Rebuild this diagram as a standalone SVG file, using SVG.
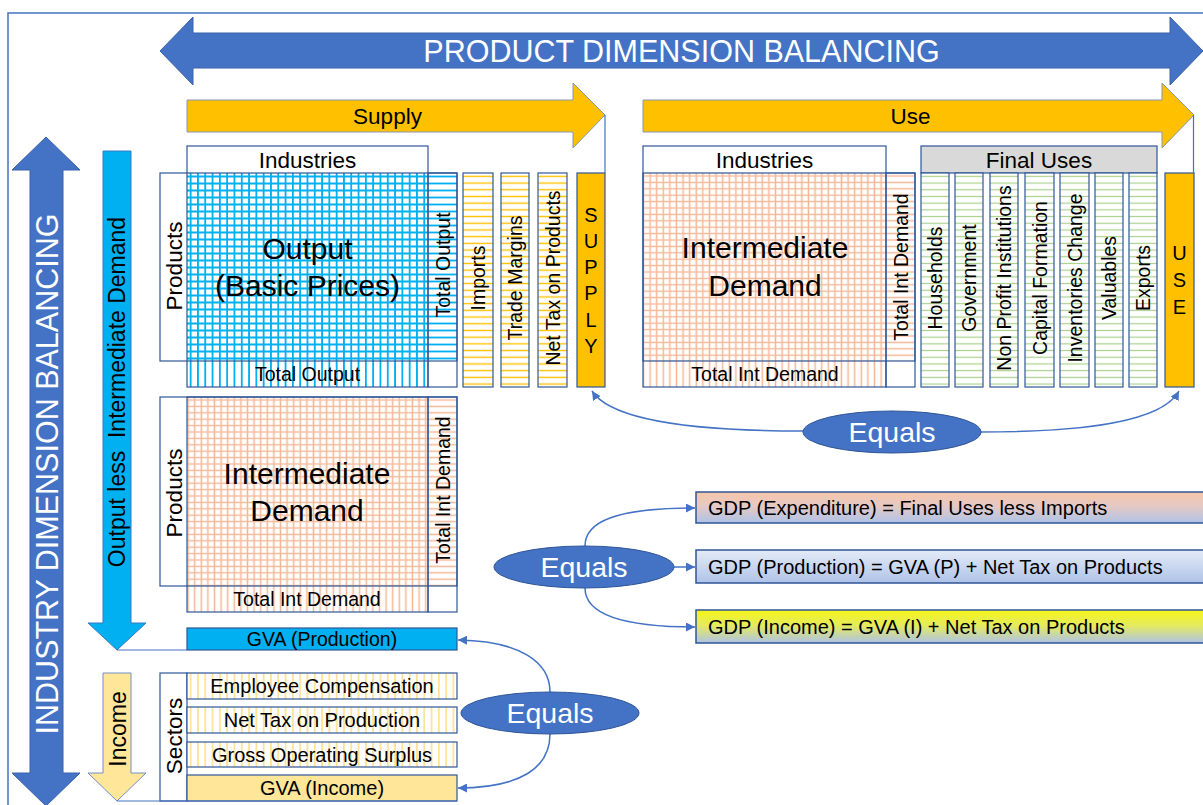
<svg xmlns="http://www.w3.org/2000/svg" width="1203" height="805" viewBox="0 0 1203 805">
  <style>
    .t { font-family: "Liberation Sans", Arial, sans-serif; fill: #000; text-anchor: middle; }
    .w { fill: #fff; }
    .box { fill: none; stroke: #2F5597; stroke-width: 1.2; }
    .white { fill: #fff; }
    .big { fill: #4472C4; stroke: #3A62AC; stroke-width: 1; }
    .gold { fill: #FFC000; stroke: #8496B4; stroke-width: 1; }
    .conn { fill: none; stroke: #4472C4; stroke-width: 1.5; }
    .arr { marker-end: url(#ah); }
    .oval { fill: #4472C4; stroke: #2F5597; stroke-width: 1; }
    .f30 { font-size: 30px; }
    .f22 { font-size: 22.5px; }
    .f20 { font-size: 20px; }
    .f19 { font-size: 19.5px; }
  </style>
  <defs>
    <!-- cell patterns -->
    <pattern id="gBlue" x="187" y="173" width="7.3" height="7" patternUnits="userSpaceOnUse">
      <rect width="7.3" height="7" fill="#fff"/>
      <path d="M3.65,0V7M0,3.5H7.3" stroke="#00B0F0" stroke-width="1.8"/>
    </pattern>
    <pattern id="vBlue" x="187" y="0" width="7.3" height="10" patternUnits="userSpaceOnUse">
      <rect width="7.3" height="10" fill="#fff"/>
      <path d="M3.65,0V10" stroke="#00B0F0" stroke-width="1.8"/>
    </pattern>
    <pattern id="hBlue" x="0" y="173" width="10" height="7" patternUnits="userSpaceOnUse">
      <rect width="10" height="7" fill="#fff"/>
      <path d="M0,3.5H10" stroke="#00B0F0" stroke-width="1.8"/>
    </pattern>
    <pattern id="gSalmon" x="0" y="0" width="6.6" height="6.4" patternUnits="userSpaceOnUse">
      <rect width="6.6" height="6.4" fill="#fff"/>
      <path d="M3.3,0V6.4M0,3.2H6.6" stroke="#F5B896" stroke-width="1.5"/>
    </pattern>
    <pattern id="vSalmon" x="0" y="0" width="6.6" height="10" patternUnits="userSpaceOnUse">
      <rect width="6.6" height="10" fill="#fff"/>
      <path d="M3.3,0V10" stroke="#F5B896" stroke-width="1.5"/>
    </pattern>
    <pattern id="hSalmon" x="0" y="0" width="10" height="6.4" patternUnits="userSpaceOnUse">
      <rect width="10" height="6.4" fill="#fff"/>
      <path d="M0,3.2H10" stroke="#F5B896" stroke-width="1.5"/>
    </pattern>
    <pattern id="hGold" x="0" y="173" width="10" height="6.7" patternUnits="userSpaceOnUse">
      <rect width="10" height="6.7" fill="#fff"/>
      <path d="M0,3.35H10" stroke="#FFC000" stroke-width="1.4"/>
    </pattern>
    <pattern id="hGreen" x="0" y="173" width="10" height="6.7" patternUnits="userSpaceOnUse">
      <rect width="10" height="6.7" fill="#fff"/>
      <path d="M0,3.35H10" stroke="#A9D18E" stroke-width="1.2"/>
    </pattern>
    <pattern id="vCream" x="187" y="0" width="7.3" height="10" patternUnits="userSpaceOnUse">
      <rect width="7.3" height="10" fill="#fff"/>
      <path d="M3.65,0V10" stroke="#FFE08A" stroke-width="1.6"/>
    </pattern>
    <linearGradient id="gdpExp" x1="0" y1="0" x2="0" y2="1">
      <stop offset="0" stop-color="#F6C6AA"/>
      <stop offset="0.45" stop-color="#E6C9C4"/>
      <stop offset="1" stop-color="#AFC3E8"/>
    </linearGradient>
    <linearGradient id="gdpProd" x1="0" y1="0" x2="0" y2="1">
      <stop offset="0" stop-color="#E4EBF7"/>
      <stop offset="1" stop-color="#AFC3E8"/>
    </linearGradient>
    <linearGradient id="gdpInc" x1="0" y1="0" x2="0" y2="1">
      <stop offset="0" stop-color="#F5F51A"/>
      <stop offset="0.45" stop-color="#E6EC5A"/>
      <stop offset="1" stop-color="#AFC3E8"/>
    </linearGradient>
    <marker id="ah" viewBox="0 0 10 10" refX="10" refY="5" markerWidth="6" markerHeight="6" orient="auto" markerUnits="strokeWidth">
      <path d="M0,0L10,5L0,10z" fill="#4472C4"/>
    </marker>
  </defs>

  <!-- frame -->
  <rect x="8" y="13" width="1220" height="820" fill="none" stroke="#4472C4" stroke-width="1.5"/>

  <!-- balancing arrows -->
  <g id="product-balancing">
    <polygon class="big" points="160,51 193,17 193,33 1170,33 1170,17 1203,51 1170,85 1170,68 193,68 193,85"/>
    <text class="t w" x="681.5" y="51" dy="0.36em" style="font-size:30.5px">PRODUCT DIMENSION BALANCING</text>
  </g>
  <g id="industry-balancing">
    <polygon class="big" points="46,137 80,170 63,170 63,773 80,773 46,806 12,773 30,773 30,170 12,170"/>
    <text class="t w" transform="translate(47,474) rotate(-90)" dy="0.36em" style="font-size:30.5px">INDUSTRY DIMENSION BALANCING</text>
  </g>

  <g id="supply-arrow">
    <polygon class="gold" points="187,100 573,100 573,83 605,115 573,148 573,132 187,132"/>
    <text class="t f22" x="387.5" y="116" dy="0.36em">Supply</text>
  </g>
  <g id="use-arrow">
    <polygon class="gold" points="643,100 1162,100 1162,83 1194,115 1162,148 1162,132 643,132"/>
    <text class="t f22" x="910.5" y="116" dy="0.36em">Use</text>
  </g>

  <g id="output-less-int-arrow">
    <polygon fill="#00B0F0" stroke="#3A78C0" stroke-width="1" points="103,151 131,151 131,623 146,623 117,650 88,623 103,623"/>
    <text class="t" transform="translate(117,392) rotate(-90)" dy="0.36em" style="font-size:23px" xml:space="preserve">Output less  Intermediate Demand</text>
  </g>
  <g id="income-arrow">
    <polygon fill="#FFE699" stroke="#6F8FC8" stroke-width="1" points="103,673 131,673 131,773 146,773 117,801 88,773 103,773"/>
    <text class="t" transform="translate(118,729) rotate(-90)" dy="0.36em" style="font-size:23px">Income</text>
  </g>

  <!-- supply table: output at basic prices -->
  <g id="output-table">
    <rect x="187" y="146" width="241" height="27" class="white"/>
    <rect x="187" y="173" width="241" height="188" fill="url(#gBlue)"/>
    <rect x="187" y="361" width="241" height="26" fill="url(#vBlue)"/>
    <rect x="428" y="173" width="29" height="188" fill="url(#hBlue)"/>
    <rect x="428" y="361" width="29" height="26" class="white"/>
    <rect x="160" y="173" width="27" height="188" class="white"/>
    <rect x="187" y="146" width="241" height="241" class="box"/>
    <rect x="160" y="173" width="297" height="188" class="box"/>
    <rect x="428" y="173" width="29" height="214" class="box"/>
    <text class="t f22" x="307.5" y="160" dy="0.36em">Industries</text>
    <text class="t f22" transform="translate(173.5,266) rotate(-90)" dy="0.36em">Products</text>
    <text class="t f30" x="307.5" y="248" dy="0.36em">Output</text>
    <text class="t f30" x="307.5" y="285" dy="0.36em">(Basic Prices)</text>
    <text class="t f19" x="307.5" y="374" dy="0.36em">Total Output</text>
    <text class="t f19" transform="translate(443,265) rotate(-90)" dy="0.36em">Total Output</text>
  </g>

  <g id="imports">
    <rect x="463" y="173" width="30" height="214" fill="url(#hGold)" class="box" style="fill:url(#hGold)"/>
    <text class="t f19" transform="translate(478,278) rotate(-90)" dy="0.36em">Imports</text>
  </g>
  <g id="trade-margins">
    <rect x="501" y="173" width="28" height="214" class="box" style="fill:url(#hGold)"/>
    <text class="t f19" transform="translate(515,278) rotate(-90)" dy="0.36em">Trade Margins</text>
  </g>
  <g id="net-tax-products">
    <rect x="538" y="173" width="29" height="214" class="box" style="fill:url(#hGold)"/>
    <text class="t f19" transform="translate(552.5,278) rotate(-90)" dy="0.36em">Net Tax on Products</text>
  </g>
  <g id="supply-total">
    <rect x="577" y="173" width="28" height="214" class="box" style="fill:#FFC000"/>
    <text class="t f20" x="591" y="215" dy="0.36em">S</text>
    <text class="t f20" x="591" y="241" dy="0.36em">U</text>
    <text class="t f20" x="591" y="267" dy="0.36em">P</text>
    <text class="t f20" x="591" y="293" dy="0.36em">P</text>
    <text class="t f20" x="591" y="320" dy="0.36em">L</text>
    <text class="t f20" x="591" y="346" dy="0.36em">Y</text>
  </g>

  <!-- use table: intermediate demand -->
  <g id="use-intermediate">
    <rect x="643" y="146" width="243" height="27" class="white"/>
    <rect x="643" y="173" width="243" height="188" fill="url(#gSalmon)"/>
    <rect x="643" y="361" width="243" height="26" fill="url(#vSalmon)"/>
    <rect x="886" y="173" width="29" height="188" fill="url(#hSalmon)"/>
    <rect x="886" y="361" width="29" height="26" class="white"/>
    <rect x="643" y="146" width="243" height="241" class="box"/>
    <rect x="643" y="173" width="272" height="188" class="box"/>
    <rect x="886" y="173" width="29" height="214" class="box"/>
    <text class="t f22" x="764.5" y="160" dy="0.36em">Industries</text>
    <text class="t f30" x="765" y="247" dy="0.36em">Intermediate</text>
    <text class="t f30" x="765" y="285" dy="0.36em">Demand</text>
    <text class="t f19" x="765" y="374" dy="0.36em">Total Int Demand</text>
    <text class="t f19" transform="translate(900.5,267) rotate(-90)" dy="0.36em">Total Int Demand</text>
  </g>

  <g id="final-uses">
    <rect x="921" y="146" width="236" height="27" class="box" style="fill:#D9D9D9"/>
    <text class="t f22" x="1039" y="160" dy="0.36em">Final Uses</text>
    <rect x="921" y="173" width="28" height="214" class="box" style="fill:url(#hGreen)"/>
    <rect x="955" y="173" width="28" height="214" class="box" style="fill:url(#hGreen)"/>
    <rect x="990" y="173" width="28" height="214" class="box" style="fill:url(#hGreen)"/>
    <rect x="1025" y="173" width="29" height="214" class="box" style="fill:url(#hGreen)"/>
    <rect x="1060" y="173" width="29" height="214" class="box" style="fill:url(#hGreen)"/>
    <rect x="1095" y="173" width="28" height="214" class="box" style="fill:url(#hGreen)"/>
    <rect x="1129" y="173" width="28" height="214" class="box" style="fill:url(#hGreen)"/>
    <text class="t f19" transform="translate(935,278) rotate(-90)" dy="0.36em">Households</text>
    <text class="t f19" transform="translate(969,278) rotate(-90)" dy="0.36em">Government</text>
    <text class="t f19" transform="translate(1004,278) rotate(-90)" dy="0.36em">Non Profit Institutions</text>
    <text class="t f19" transform="translate(1039.5,278) rotate(-90)" dy="0.36em">Capital Formation</text>
    <text class="t f19" transform="translate(1074.5,278) rotate(-90)" dy="0.36em">Inventories Change</text>
    <text class="t f19" transform="translate(1109,278) rotate(-90)" dy="0.36em">Valuables</text>
    <text class="t f19" transform="translate(1143,278) rotate(-90)" dy="0.36em">Exports</text>
  </g>
  <g id="use-total">
    <rect x="1165" y="173" width="29" height="214" class="box" style="fill:#FFC000"/>
    <text class="t f20" x="1179.5" y="253" dy="0.36em">U</text>
    <text class="t f20" x="1179.5" y="280" dy="0.36em">S</text>
    <text class="t f20" x="1179.5" y="307" dy="0.36em">E</text>
  </g>

  <!-- intermediate demand by industry -->
  <g id="industry-intermediate">
    <rect x="187" y="397" width="241" height="189" fill="url(#gSalmon)"/>
    <rect x="187" y="586" width="241" height="26" fill="url(#vSalmon)"/>
    <rect x="428" y="397" width="29" height="189" fill="url(#hSalmon)"/>
    <rect x="428" y="586" width="29" height="26" class="white"/>
    <rect x="160" y="397" width="27" height="189" class="white"/>
    <rect x="160" y="397" width="297" height="189" class="box"/>
    <rect x="187" y="397" width="241" height="215" class="box"/>
    <rect x="428" y="397" width="29" height="215" class="box"/>
    <text class="t f22" transform="translate(173.5,493) rotate(-90)" dy="0.36em">Products</text>
    <text class="t f30" x="307" y="473" dy="0.36em">Intermediate</text>
    <text class="t f30" x="307" y="510" dy="0.36em">Demand</text>
    <text class="t f19" x="307" y="599" dy="0.36em">Total Int Demand</text>
    <text class="t f19" transform="translate(443,490) rotate(-90)" dy="0.36em">Total Int Demand</text>
  </g>

  <g id="gva-production">
    <rect x="187" y="628" width="270" height="22" class="box" style="fill:#00B0F0"/>
    <text class="t f19" x="322" y="639" dy="0.36em">GVA (Production)</text>
  </g>

  <g id="income-sectors">
    <rect x="160" y="673" width="27" height="128" class="box" style="fill:#fff"/>
    <text class="t f22" transform="translate(173.5,736) rotate(-90)" dy="0.36em">Sectors</text>
    <rect x="187" y="673" width="270" height="26" class="box" style="fill:url(#vCream)"/>
    <text class="t f20" x="322" y="686" dy="0.36em">Employee Compensation</text>
    <rect x="187" y="707" width="270" height="26" class="box" style="fill:url(#vCream)"/>
    <text class="t f20" x="322" y="720" dy="0.36em">Net Tax on Production</text>
    <rect x="187" y="742" width="270" height="25" class="box" style="fill:url(#vCream)"/>
    <text class="t f20" x="322" y="754.5" dy="0.36em">Gross Operating Surplus</text>
  </g>
  <g id="gva-income">
    <rect x="187" y="775" width="270" height="26" class="box" style="fill:#FFE699"/>
    <text class="t f20" x="322" y="788" dy="0.36em">GVA (Income)</text>
  </g>

  <!-- GDP identities -->
  <g id="gdp-expenditure">
    <rect x="696" y="492" width="520" height="31" fill="url(#gdpExp)" stroke="#2F5597" stroke-width="1.5"/>
    <text class="t f20" x="708" y="507.5" dy="0.36em" style="text-anchor:start">GDP (Expenditure) = Final Uses less Imports</text>
  </g>
  <g id="gdp-production">
    <rect x="696" y="550" width="520" height="33" fill="url(#gdpProd)" stroke="#2F5597" stroke-width="1.5"/>
    <text class="t f20" x="708" y="566.5" dy="0.36em" style="text-anchor:start">GDP (Production) = GVA (P) + Net Tax on Products</text>
  </g>
  <g id="gdp-income">
    <rect x="696" y="610" width="520" height="33" fill="url(#gdpInc)" stroke="#2F5597" stroke-width="1.5"/>
    <text class="t f20" x="708" y="626.5" dy="0.36em" style="text-anchor:start">GDP (Income) = GVA (I) + Net Tax on Products</text>
  </g>

  <!-- connectors -->
  <g id="connectors">
    <path class="conn" d="M605,115V173" style="stroke-width:1.2"/>
    <path class="conn" d="M1193.5,115V173" style="stroke-width:1.2"/>
    <path class="conn" d="M117,650H187" style="stroke-width:1.2"/>
    <path class="conn" d="M117,801H457" style="stroke-width:1.2"/>
    <path class="conn arr" d="M803,431C700,431 612,422 592,391"/>
    <path class="conn arr" d="M981,432C1085,432 1162,422 1179,391"/>
    <path class="conn arr" d="M585,546C585,522 615,508 695,508"/>
    <path class="conn arr" d="M674,567H695"/>
    <path class="conn arr" d="M585,588C585,612 615,627 695,627"/>
    <path class="conn arr" d="M550,692C550,662 520,641 458,640"/>
    <path class="conn arr" d="M550,734C550,768 520,788 458,788"/>
  </g>

  <!-- equality nodes -->
  <g id="equals-supply-use">
    <ellipse class="oval" cx="892" cy="432" rx="89" ry="21"/>
    <text class="t w" x="892" y="432" dy="0.36em" style="font-size:28.5px">Equals</text>
  </g>
  <g id="equals-gdp">
    <ellipse class="oval" cx="584" cy="567" rx="90" ry="21"/>
    <text class="t w" x="584" y="567" dy="0.36em" style="font-size:28.5px">Equals</text>
  </g>
  <g id="equals-gva">
    <ellipse class="oval" cx="550" cy="713" rx="89" ry="21"/>
    <text class="t w" x="550" y="713" dy="0.36em" style="font-size:28.5px">Equals</text>
  </g>
</svg>
